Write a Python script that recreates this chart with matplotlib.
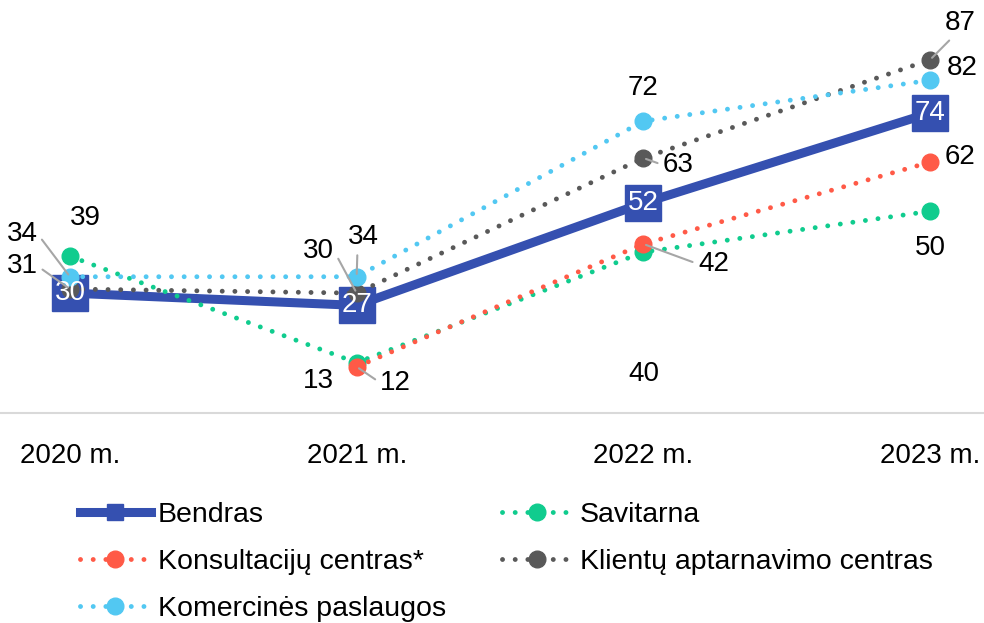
import matplotlib
matplotlib.use('Agg')
import matplotlib.pyplot as plt
from matplotlib.lines import Line2D
import numpy as np

plt.rcParams['font.family'] = ['Liberation Sans', 'DejaVu Sans']

years = ['2020 m.', '2021 m.', '2022 m.', '2023 m.']
bendras = [30, 27, 52, 74]
savitarna = [39, 13, 40, 50]
konsultaciju = [np.nan, 12, 42, 62]
klientu = [31, 30, 63, 87]
komercines = [34, 34, 72, 82]

c_bendras = '#3550b0'
c_savit = '#10cc8e'
c_konsult = '#ff5a47'
c_klient = '#595959'
c_komerc = '#52c8f2'

fig = plt.figure(figsize=(9.84, 6.23), dpi=100)
ax = fig.add_axes([0, 0.337, 1, 0.663])
x = np.arange(len(years))

dot = (0, (0.01, 2.6))
kw = dict(lw=3.5, linestyle=dot, dash_capstyle='round', marker='o', markersize=12)

ax.plot(x, bendras, color=c_bendras, lw=6.5, marker='s', markersize=26, zorder=2)
ax.plot(x, savitarna, color=c_savit, zorder=3, **kw)
ax.plot(x, konsultaciju, color=c_konsult, zorder=3, **kw)
ax.plot(x, klientu, color=c_klient, zorder=3, **kw)
ax.plot(x, komercines, color=c_komerc, zorder=3, **kw)

# Bendras reiksmes kvadratuose
for i, v in enumerate(bendras):
    ax.text(i, v, str(v), color='white', fontsize=20, ha='center', va='center', zorder=5)

# kitos reiksmes: poslinkiai pikseliais ir linijos pradzia
offs = {
    'sav': [(15, 38, None), (-38, -18, None), (0, -122, None), (0, -37, None)],
    'kon': [None, (39, -16, (0, 0.5)), (70, -20, (0, 0.5)), (30, 5, None)],
    'kli': [(-48, 23, (1, 0.5)), (-38, 42, (1, 0.5)), (35, -7, (0, 0.5)), (30, 37, (0.3, 0))],
    'kom': [(-48, 43, (1, 0.5)), (7, 40, (0.3, 0)), (0, 33, None), (32, 12, None)],
}
series = {'sav': savitarna, 'kon': konsultaciju, 'kli': klientu, 'kom': komercines}
for key, vals in series.items():
    for i, v in enumerate(vals):
        o = offs[key][i]
        if o is None or np.isnan(v):
            continue
        dx, dy, rel = o
        ap = None
        if rel is not None:
            ap = dict(arrowstyle='-', color='#a6a6a6', lw=1.5, shrinkA=2, shrinkB=2, relpos=rel)
        ax.annotate(str(int(v)), (i, v), xytext=(dx, dy), textcoords='offset pixels',
                    fontsize=20, ha='center', va='center', arrowprops=ap, zorder=6)

ax.set_xlim(-0.244, 3.188)
ax.set_ylim(0.7, 101.6)
ax.set_yticks([])
ax.set_xticks([])
for s in ['top', 'left', 'right']:
    ax.spines[s].set_visible(False)
ax.spines['bottom'].set_color('#d9d9d9')
ax.spines['bottom'].set_linewidth(1.5)

for i, t in enumerate(years):
    fig.text((70 + i * 286.7) / 984, 1 - 456 / 623, t, fontsize=20, ha='center', va='center')

handles = [
    Line2D([], [], color=c_bendras, lw=6.5, marker='s', markersize=12),
    Line2D([], [], color=c_konsult, **kw),
    Line2D([], [], color=c_komerc, **kw),
    Line2D([], [], color=c_savit, **kw),
    Line2D([], [], color=c_klient, **kw),
]
labels = ['Bendras', 'Konsultacijų centras*', 'Komercinės paslaugos', 'Savitarna',
          'Klientų aptarnavimo centras']
fig.legend(handles, labels, ncol=2, loc='upper left', bbox_to_anchor=(0.081, 0.194),
           frameon=False, fontsize=20.5, handlelength=2.5, handletextpad=0.25,
           columnspacing=1.95, labelspacing=0.74, borderpad=0, borderaxespad=0)

fig.savefig('out.png', dpi=100)
